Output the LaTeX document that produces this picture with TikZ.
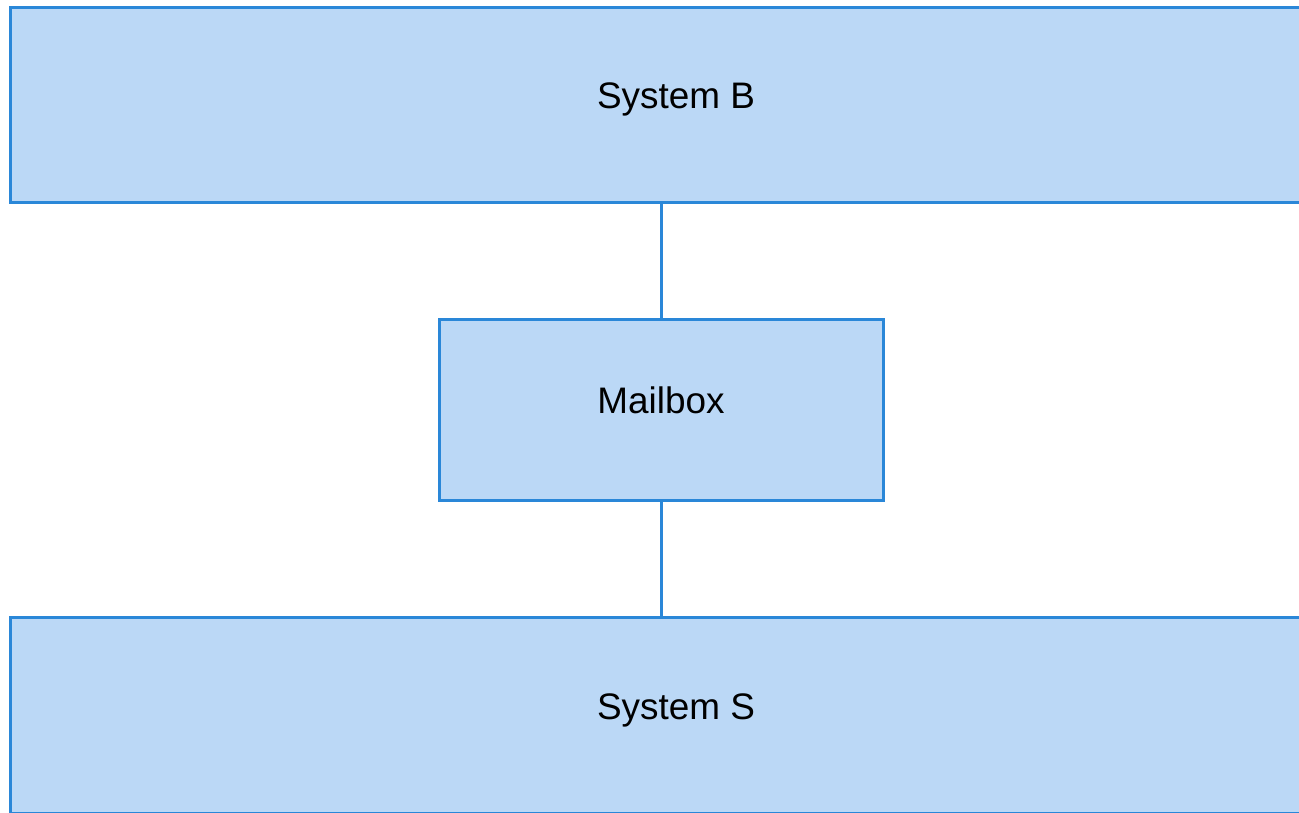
\documentclass[tikz,border=0pt]{standalone}
\usepackage{fontspec}
\setmainfont{Liberation Sans}
\definecolor{boxfill}{RGB}{187,216,246}
\definecolor{boxline}{RGB}{42,135,216}
\begin{document}
\begin{tikzpicture}[x=1pt,y=1pt,
  sysbox/.style={draw=boxline,fill=boxfill,line width=3pt,rectangle,inner sep=0pt,outer sep=0pt},
  lbl/.style={anchor=base,inner sep=0pt,font=\fontsize{36.9}{44}\selectfont},
  conn/.style={draw=boxline,line width=3pt}]
\useasboundingbox (0,0) rectangle (1299,812);
\clip (0,0) rectangle (1299,812);
\fill[white] (0,0) rectangle (1299,812);
\node[sysbox,minimum width=1332pt,minimum height=195pt] (B) at (676,706.5) {};
\node[sysbox,minimum width=444pt,minimum height=181pt] (M) at (661,401.5) {};
\node[sysbox,minimum width=1332pt,minimum height=195pt] (S) at (676,96.5) {};
\draw[conn] (M.north) -- (M.north |- B.south);
\draw[conn] (M.south) -- (M.south |- S.north);
\node[lbl] (Bt) at (676,703.5) {System B};
\node[lbl] (Mt) at (661,398) {Mailbox};
\node[lbl] (St) at (676,93) {System S};
\end{tikzpicture}
\end{document}
